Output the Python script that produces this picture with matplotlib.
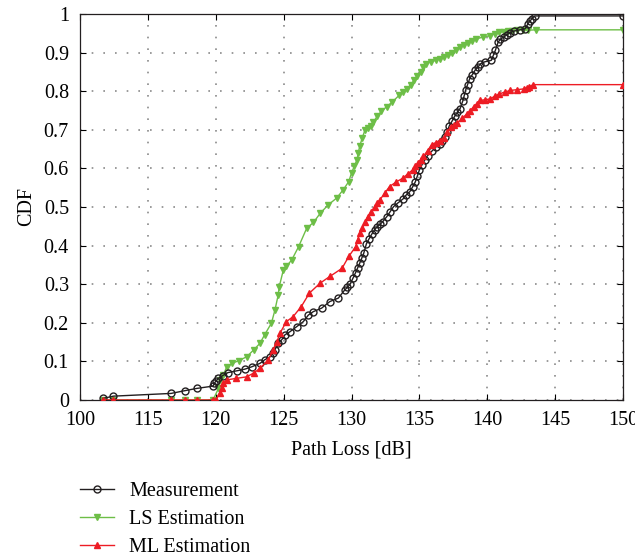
import matplotlib
matplotlib.use("Agg")
import matplotlib.pyplot as plt
import numpy as np

plt.rcParams['font.family'] = ['Liberation Serif', 'DejaVu Serif']

# path loss values [dB] and CDF values
meas_x = [105.0, 107.4, 116.7, 117.7, 118.6, 119.8, 119.9, 120.0, 120.2, 120.5,
          120.9, 121.6, 122.15, 122.65, 123.26, 123.6, 124.0, 124.2, 124.36, 124.6,
          124.86, 125.1, 125.47, 125.96, 126.45, 126.82, 127.19, 127.8, 128.4, 129.03,
          129.5, 129.7, 129.9, 130.1, 130.3, 130.45, 130.6, 130.75, 130.9, 131.1,
          131.3, 131.5, 131.7, 131.9, 132.1, 132.3, 132.6, 132.85, 133.1, 133.4,
          133.8, 134.0, 134.3, 134.5, 134.7, 134.85, 135.0, 135.2, 135.4, 135.6,
          135.9, 136.2, 136.5, 136.7, 136.9, 137.05, 137.2, 137.4, 137.6, 137.8,
          138.0, 138.2, 138.3, 138.4, 138.55, 138.7, 138.9, 139.1, 139.3, 139.5,
          139.8, 140.3, 140.45, 140.6, 140.8, 140.95, 141.2, 141.45, 141.7, 142.0,
          142.4, 142.8, 143.0, 143.15, 143.3, 143.5, 150.0]
meas_y = [0.004, 0.010, 0.017, 0.024, 0.030, 0.036, 0.043, 0.049, 0.056, 0.063,
          0.071, 0.076, 0.080, 0.086, 0.095, 0.104, 0.112, 0.121, 0.130, 0.147,
          0.156, 0.169, 0.177, 0.190, 0.203, 0.220, 0.229, 0.238, 0.255, 0.264,
          0.285, 0.292, 0.300, 0.315, 0.330, 0.342, 0.354, 0.367, 0.380, 0.405,
          0.418, 0.430, 0.441, 0.449, 0.455, 0.462, 0.475, 0.488, 0.501, 0.510,
          0.521, 0.530, 0.540, 0.552, 0.565, 0.580, 0.596, 0.610, 0.622, 0.633,
          0.644, 0.655, 0.663, 0.672, 0.681, 0.695, 0.710, 0.722, 0.735, 0.745,
          0.755, 0.775, 0.788, 0.802, 0.817, 0.832, 0.843, 0.854, 0.862, 0.871,
          0.876, 0.880, 0.893, 0.906, 0.927, 0.934, 0.940, 0.946, 0.952, 0.956,
          0.959, 0.962, 0.975, 0.982, 0.988, 0.995, 0.995]

ls_x = [105.0, 107.4, 116.7, 117.7, 118.6, 119.8, 120.2, 120.3, 120.56, 120.8,
        121.2, 121.7, 122.28, 122.8, 123.26, 123.6, 124.1, 124.36, 124.6, 124.68,
        124.98, 125.2, 125.6, 126.1, 126.7, 127.2, 127.7, 128.3, 128.9, 129.4,
        129.8, 130.0, 130.2, 130.4, 130.5, 130.6, 130.8, 131.0, 131.2, 131.4,
        131.6, 131.9, 132.2, 132.6, 133.0, 133.5, 133.8, 134.1, 134.35, 134.6,
        134.85, 135.1, 135.3, 135.5, 135.85, 136.2, 136.5, 136.8, 137.1, 137.4,
        137.7, 138.0, 138.3, 138.6, 138.9, 139.2, 139.7, 140.2, 140.55, 140.9,
        141.2, 141.5, 141.85, 142.2, 142.6, 143.0, 143.6, 150.0]
ls_y = [0.0, 0.0, 0.0, 0.0, 0.0, 0.0, 0.030, 0.052, 0.065, 0.085,
        0.095, 0.102, 0.112, 0.130, 0.147, 0.169, 0.199, 0.233, 0.272, 0.294,
        0.337, 0.346, 0.363, 0.397, 0.445, 0.460, 0.484, 0.506, 0.523, 0.545,
        0.566, 0.588, 0.605, 0.622, 0.640, 0.657, 0.680, 0.700, 0.705, 0.709,
        0.720, 0.735, 0.748, 0.760, 0.772, 0.789, 0.797, 0.806, 0.817, 0.828,
        0.840, 0.850, 0.862, 0.871, 0.876, 0.880, 0.884, 0.888, 0.894, 0.900,
        0.907, 0.914, 0.920, 0.925, 0.930, 0.936, 0.940, 0.944, 0.949, 0.953,
        0.954, 0.955, 0.957, 0.959, 0.959, 0.958, 0.959, 0.959]

ml_x = [105.0, 107.4, 116.7, 117.7, 118.6, 119.8, 120.0, 120.3, 120.45, 120.56,
        120.8, 121.5, 122.28, 122.8, 123.26, 123.87, 124.24, 124.5, 124.73, 125.2,
        125.7, 126.3, 126.9, 127.7, 128.4, 129.3, 129.8, 130.3, 130.45, 130.6,
        130.8, 131.0, 131.2, 131.45, 131.7, 131.9, 132.1, 132.45, 132.8, 133.3,
        133.8, 134.15, 134.5, 134.7, 134.9, 135.1, 135.3, 135.6, 135.9, 136.2,
        136.5, 136.8, 137.05, 137.3, 137.55, 137.8, 138.15, 138.5, 138.75, 139.0,
        139.25, 139.5, 139.85, 140.2, 140.55, 140.9, 141.3, 141.7, 142.2, 142.7,
        142.9, 143.1, 143.4, 150.0]
ml_y = [0.0, 0.0, 0.0, 0.0, 0.0, 0.0, 0.0, 0.017, 0.030, 0.043,
        0.052, 0.056, 0.060, 0.070, 0.082, 0.104, 0.130, 0.150, 0.173, 0.203,
        0.216, 0.242, 0.277, 0.303, 0.320, 0.341, 0.372, 0.397, 0.415, 0.432,
        0.445, 0.460, 0.475, 0.488, 0.500, 0.510, 0.519, 0.536, 0.553, 0.565,
        0.575, 0.586, 0.596, 0.606, 0.615, 0.623, 0.631, 0.646, 0.661, 0.667,
        0.672, 0.680, 0.694, 0.707, 0.712, 0.718, 0.730, 0.741, 0.750, 0.760,
        0.768, 0.776, 0.778, 0.780, 0.787, 0.793, 0.798, 0.802, 0.804, 0.806,
        0.809, 0.812, 0.817, 0.817]

x_ticks = [100, 115, 120, 125, 130, 135, 140, 145, 150]
y_ticks = [0, 0.1, 0.2, 0.3, 0.4, 0.5, 0.6, 0.7, 0.8, 0.9, 1]
y_tick_labels = ['0', '0.1', '0.2', '0.3', '0.4', '0.5', '0.6', '0.7', '0.8', '0.9', '1']


# the x axis squeezes 100-115 dB into one tick interval
def squeeze(x):
    x = np.asarray(x, dtype=float)
    return np.where(x < 115, 110 + (x - 100) / 3, x)


def unsqueeze(u):
    u = np.asarray(u, dtype=float)
    return np.where(u < 115, 100 + (u - 110) * 3, u)


fig = plt.figure(figsize=(6.35, 5.59), dpi=100)
ax = fig.add_axes([80 / 635, 1 - 400 / 559, 543 / 635, 386 / 559])
ax.set_xscale('function', functions=(squeeze, unsqueeze))

ax.plot(meas_x, meas_y, color='#231f20', lw=1, marker='o', ms=5,
        mfc='none', mec='#231f20', mew=1, label='Measurement', zorder=3)
ax.plot(ls_x, ls_y, color='#6dbe47', lw=1, marker='v', ms=5,
        mfc='#6dbe47', mec='#6dbe47', label='LS Estimation', zorder=2)
ax.plot(ml_x, ml_y, color='#ed1c24', lw=1, marker='^', ms=5,
        mfc='#ed1c24', mec='#ed1c24', label='ML Estimation', zorder=4)

ax.set_xlim(100, 150)
ax.set_ylim(0, 1)
ax.set_xticks(x_ticks)
ax.set_xticklabels([str(t) for t in x_ticks])
ax.set_yticks(y_ticks)
ax.set_yticklabels(y_tick_labels)
ax.tick_params(direction='in', top=True, right=True, length=4, width=0.8,
               labelsize=14.5, pad=8)
ax.grid(True, linestyle=(0, (1, 6)), color='#8a8a8a', linewidth=1.2)
for s in ax.spines.values():
    s.set_linewidth(0.9)
    s.set_color('#231f20')

ax.set_xlabel('Path Loss [dB]', fontsize=14.5)
ax.xaxis.set_label_coords(0.5, -0.105)
ax.set_ylabel('CDF', fontsize=14.5)
ax.yaxis.set_label_coords(-0.08, 0.5)

fig.legend(loc='upper left', bbox_to_anchor=(80 / 635, 1 - 482 / 559),
           frameon=False, borderpad=0, borderaxespad=0, handlelength=1.7,
           handletextpad=0.75, labelspacing=0.45, fontsize=14.5, numpoints=1)

fig.savefig('out.png', dpi=100)
